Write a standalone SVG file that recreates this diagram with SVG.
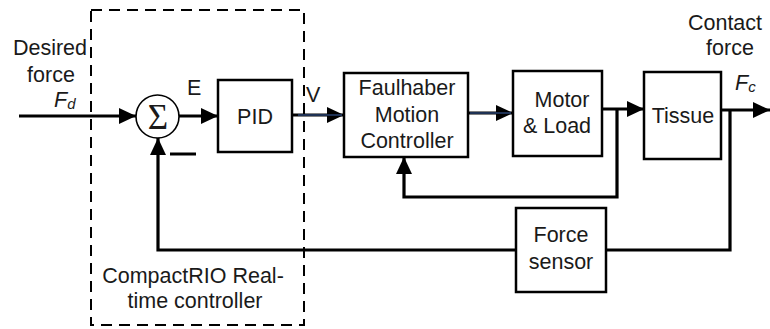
<svg xmlns="http://www.w3.org/2000/svg" width="770" height="329" viewBox="0 0 770 329">
  <defs>
    <style>
      .box { fill: #ffffff; stroke: #000000; stroke-width: 2.5; }
      .wire { fill: none; stroke: #000000; stroke-width: 3.2; stroke-linejoin: miter; }
      .tint { fill: none; stroke: #3d63a8; stroke-width: 1.2; }
      .lbl { font-family: "Liberation Sans", Arial, sans-serif; font-size: 21.5px; fill: #1a1a1a; }
      .mid { text-anchor: middle; }
      .it { font-style: italic; }
      .frame { fill: none; stroke: #000000; stroke-width: 2; stroke-dasharray: 11 7; }
    </style>
    <marker id="arrow" markerUnits="userSpaceOnUse" markerWidth="18" markerHeight="18" refX="17" refY="8" orient="auto">
      <path d="M0,0 L17,8 L0,16 Z" fill="#000000"/>
    </marker>
  </defs>

  <rect width="770" height="329" fill="#ffffff"/>

  <!-- controller boundary -->
  <g id="realtime-controller">
    <rect class="frame" x="91" y="10" width="213" height="315"/>
    <text class="lbl mid" x="193" y="283">CompactRIO Real-</text>
    <text class="lbl mid" x="195" y="308">time controller</text>
  </g>

  <!-- signal connectors -->
  <g id="connectors">
    <line class="wire" x1="19" y1="116" x2="136" y2="116" marker-end="url(#arrow)"/>
    <line class="wire" x1="179" y1="116" x2="218" y2="116" marker-end="url(#arrow)"/>
    <line class="wire" x1="292" y1="115" x2="344" y2="115" marker-end="url(#arrow)"/>
    <line class="tint" x1="298" y1="115" x2="342" y2="115"/>
    <line class="wire" x1="468" y1="113" x2="513" y2="113" marker-end="url(#arrow)"/>
    <line class="tint" x1="470" y1="113" x2="511" y2="113"/>
    <line class="wire" x1="602" y1="109" x2="644" y2="109" marker-end="url(#arrow)"/>
    <line class="wire" x1="721" y1="110" x2="770" y2="110" marker-end="url(#arrow)"/>
    <polyline class="wire" points="617,109 617,197 404,197 404,157" marker-end="url(#arrow)"/>
    <polyline class="wire" points="730,110 730,250 606,250"/>
    <polyline class="wire" points="516,250 158,250 158,138" marker-end="url(#arrow)"/>
  </g>

  <!-- input / output labels -->
  <g id="input-label">
    <text class="lbl mid" x="50" y="55">Desired</text>
    <text class="lbl mid" x="51" y="82">force</text>
    <text class="lbl it" x="54" y="107">F<tspan font-size="15" dy="2">d</tspan></text>
  </g>
  <g id="output-label">
    <text class="lbl mid" x="725" y="30">Contact</text>
    <text class="lbl mid" x="730" y="55">force</text>
    <text class="lbl it" x="735" y="90">F<tspan font-size="15" dy="2">c</tspan></text>
  </g>
  <text class="lbl" x="187" y="95">E</text>
  <text class="lbl" x="306" y="102">V</text>

  <g id="summing-junction">
    <circle cx="157.5" cy="116.5" r="21.5" fill="#ffffff" stroke="#000000" stroke-width="1.6"/>
    <text x="158" y="129" text-anchor="middle" font-family="Liberation Serif, 'Times New Roman', serif" font-size="35" fill="#1a1a1a">Σ</text>
    <line x1="170" y1="154" x2="196" y2="154" stroke="#000000" stroke-width="3"/>
  </g>

  <g id="pid">
    <rect class="box" x="218" y="80" width="74" height="72"/>
    <text class="lbl mid" x="255" y="124">PID</text>
  </g>

  <g id="motion-controller">
    <rect class="box" x="344" y="73" width="124" height="84"/>
    <text class="lbl mid" x="407" y="95">Faulhaber</text>
    <text class="lbl mid" x="407" y="122">Motion</text>
    <text class="lbl mid" x="407" y="148">Controller</text>
  </g>

  <g id="motor-load">
    <rect class="box" x="513" y="71" width="89" height="85"/>
    <text class="lbl mid" x="562" y="107">Motor</text>
    <text class="lbl mid" x="557" y="133">&amp; Load</text>
  </g>

  <g id="tissue">
    <rect class="box" x="644" y="72" width="77" height="87"/>
    <text class="lbl mid" x="683" y="123">Tissue</text>
  </g>

  <g id="force-sensor">
    <rect class="box" x="516" y="208" width="90" height="84"/>
    <text class="lbl mid" x="561" y="242">Force</text>
    <text class="lbl mid" x="561" y="269">sensor</text>
  </g>
</svg>
